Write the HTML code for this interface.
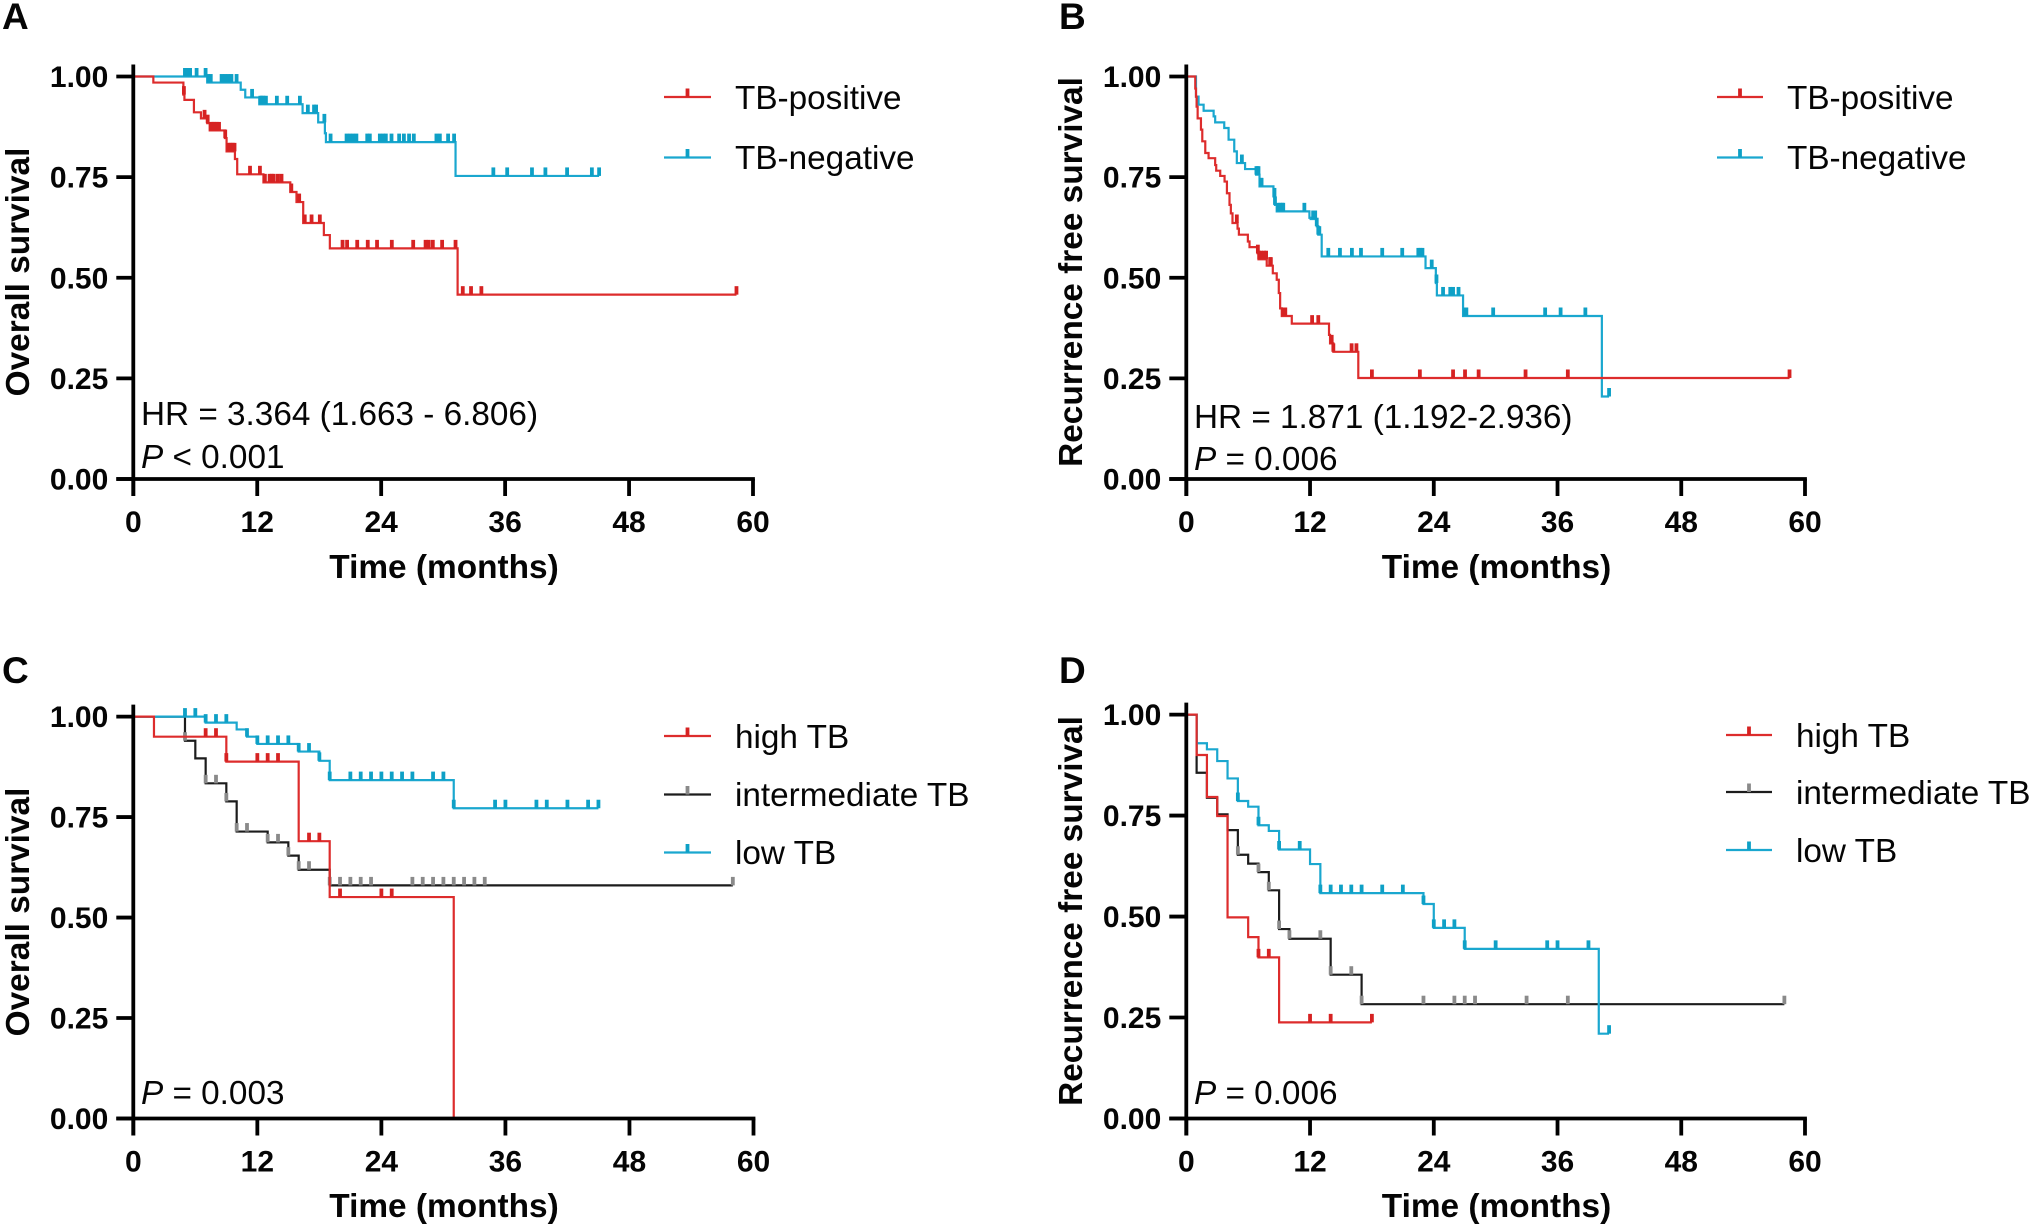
<!DOCTYPE html>
<html lang="en">
<head>
<meta charset="utf-8">
<title>Kaplan-Meier survival curves by TB status</title>
<style>
html,body{margin:0;padding:0;background:#fff;width:2030px;height:1228px;overflow:hidden}
svg{display:block}
text{font-family:"Liberation Sans",Arial,sans-serif;fill:#050505}
.tick{font-size:30px;font-weight:700}
.title{font-size:33.4px;font-weight:700}
.panel{font-size:37px;font-weight:700}
.note,.leg{font-size:33.3px}
</style>
</head>
<body>
<svg id="figure" xmlns="http://www.w3.org/2000/svg" width="2030" height="1228" viewBox="0 0 2030 1228">
  <rect width="2030" height="1228" fill="#fff"/>

  <!-- Panel A -->
  <g id="panel-a">
    <text class="panel" x="2" y="29">A</text>
    <text class="title" x="444" y="578" text-anchor="middle">Time (months)</text>
    <text class="title" transform="translate(29 272) rotate(-90)" text-anchor="middle">Overall survival</text>
    <text class="note" x="141" y="425">HR = 3.364 (1.663 - 6.806)</text>
    <text class="note" x="141" y="468"><tspan font-style="italic">P</tspan> &lt; 0.001</text>
    <g>
      <g>
        <path d="M664 97H711" stroke="#dd2c2c" stroke-width="2.2" fill="none"/><path d="M687.5 97V88.5" stroke="#d62222" stroke-width="3.8" fill="none"/>
        <text class="leg" x="735" y="109">TB-positive</text>
      </g>
      <g>
        <path d="M664 157.5H711" stroke="#1aa7cf" stroke-width="2.2" fill="none"/><path d="M687.5 157.5V149" stroke="#0ea0c6" stroke-width="3.8" fill="none"/>
        <text class="leg" x="735" y="169">TB-negative</text>
      </g>
    </g>
  </g>

  <!-- Panel B -->
  <g id="panel-b">
    <text class="panel" x="1059" y="29">B</text>
    <text class="title" x="1496.5" y="578" text-anchor="middle">Time (months)</text>
    <text class="title" transform="translate(1082 272) rotate(-90)" text-anchor="middle">Recurrence free survival</text>
    <text class="note" x="1194" y="428">HR = 1.871 (1.192-2.936)</text>
    <text class="note" x="1194" y="470"><tspan font-style="italic">P</tspan> = 0.006</text>
    <g>
      <g>
        <path d="M1717 97H1763" stroke="#dd2c2c" stroke-width="2.2" fill="none"/><path d="M1740 97V88.5" stroke="#d62222" stroke-width="3.8" fill="none"/>
        <text class="leg" x="1787" y="109">TB-positive</text>
      </g>
      <g>
        <path d="M1717 157.5H1763" stroke="#1aa7cf" stroke-width="2.2" fill="none"/><path d="M1740 157.5V149" stroke="#0ea0c6" stroke-width="3.8" fill="none"/>
        <text class="leg" x="1787" y="169">TB-negative</text>
      </g>
    </g>
  </g>

  <!-- Panel C -->
  <g id="panel-c">
    <text class="panel" x="2" y="683">C</text>
    <text class="title" x="444" y="1217" text-anchor="middle">Time (months)</text>
    <text class="title" transform="translate(29 912) rotate(-90)" text-anchor="middle">Overall survival</text>
    <text class="note" x="141" y="1104"><tspan font-style="italic">P</tspan> = 0.003</text>
    <g>
      <g>
        <path d="M664 736H711" stroke="#dd2c2c" stroke-width="2.2" fill="none"/><path d="M687.5 736V727.5" stroke="#d62222" stroke-width="3.8" fill="none"/>
        <text class="leg" x="735" y="748">high TB</text>
      </g>
      <g>
        <path d="M664 794.5H711" stroke="#1c1c1c" stroke-width="2.2" fill="none"/><path d="M687.5 794.5V786" stroke="#8a8a8a" stroke-width="3.8" fill="none"/>
        <text class="leg" x="735" y="806">intermediate TB</text>
      </g>
      <g>
        <path d="M664 852.5H711" stroke="#1aa7cf" stroke-width="2.2" fill="none"/><path d="M687.5 852.5V844" stroke="#0ea0c6" stroke-width="3.8" fill="none"/>
        <text class="leg" x="735" y="864">low TB</text>
      </g>
    </g>
  </g>

  <!-- Panel D -->
  <g id="panel-d">
    <text class="panel" x="1059" y="683">D</text>
    <text class="title" x="1496.5" y="1217" text-anchor="middle">Time (months)</text>
    <text class="title" transform="translate(1082 911) rotate(-90)" text-anchor="middle">Recurrence free survival</text>
    <text class="note" x="1194" y="1104"><tspan font-style="italic">P</tspan> = 0.006</text>
    <g>
      <g>
        <path d="M1726 735H1772" stroke="#dd2c2c" stroke-width="2.2" fill="none"/><path d="M1749 735V726.5" stroke="#d62222" stroke-width="3.8" fill="none"/>
        <text class="leg" x="1796" y="747">high TB</text>
      </g>
      <g>
        <path d="M1726 792H1772" stroke="#1c1c1c" stroke-width="2.2" fill="none"/><path d="M1749 792V783.5" stroke="#8a8a8a" stroke-width="3.8" fill="none"/>
        <text class="leg" x="1796" y="804">intermediate TB</text>
      </g>
      <g>
        <path d="M1726 850H1772" stroke="#1aa7cf" stroke-width="2.2" fill="none"/><path d="M1749 850V841.5" stroke="#0ea0c6" stroke-width="3.8" fill="none"/>
        <text class="leg" x="1796" y="862">low TB</text>
      </g>
    </g>
  </g>
</svg>

<script>
// Shared axis labels
var xTickLabels = [0, 12, 24, 36, 48, 60];
var yTickLabels = ['0.00', '0.25', '0.50', '0.75', '1.00'];

// Panel A: overall survival, TB-positive
var aPositiveTimes = [1.94, 4.85, 4.95, 5.87, 6.55, 7.16, 7.4, 8.87, 9.03, 9.84, 10.06, 12.6, 15.2, 15.8, 16.45, 18.45, 19.03, 31.4];
var aPositiveSurvival = [0.985, 0.955, 0.942, 0.911, 0.896, 0.884, 0.866, 0.847, 0.814, 0.795, 0.757, 0.737, 0.713, 0.688, 0.636, 0.606, 0.573, 0.458];
var aPositiveCensored = [4.9, 6.9, 7.2, 7.5, 7.65, 7.8, 7.95, 8.1, 8.3, 8.9, 9.2, 9.35, 9.5, 9.65, 9.8, 11.3, 12.26, 12.74, 13.2, 13.4, 13.6, 14, 14.35, 15.3, 16.06, 16.6, 17.26, 18.06, 20.26, 20.7, 21.68, 22.7, 23.6, 25.03, 27.1, 28.3, 28.6, 29, 29.9, 31.2, 31.9, 32.7, 33.7, 58.4];

// Panel A: overall survival, TB-negative
var aNegativeTimes = [7.16, 10.4, 10.84, 12.2, 16.39, 17.9, 18.55, 18.65, 31.2];
var aNegativeSurvival = [0.985, 0.967, 0.948, 0.931, 0.909, 0.886, 0.859, 0.837, 0.753];
var aNegativeCensored = [5, 5.15, 5.3, 5.5, 6.13, 7, 7.26, 7.5, 8.55, 8.87, 9.2, 9.5, 10, 11.5, 12.3, 12.45, 12.6, 12.84, 13.9, 14.9, 16.13, 16.9, 17.5, 17.7, 18.5, 19.1, 20.65, 20.97, 21.29, 21.6, 22.65, 22.9, 23.87, 24.2, 24.45, 25, 25.74, 26.2, 26.7, 27.16, 29.35, 29.68, 30.48, 31.06, 34.86, 36.2, 38.6, 39.9, 42, 44.4, 45.1];

// Panel B: recurrence free survival, TB-positive
var bPositiveTimes = [0.87, 0.94, 1, 1.1, 1.42, 1.55, 1.84, 2.16, 2.8, 2.9, 3.29, 3.71, 3.94, 4.19, 4.32, 4.48, 4.97, 5.1, 5.97, 6.13, 6.9, 7, 7.8, 8.39, 8.77, 8.97, 9.1, 9.26, 10.23, 13.84, 13.94, 14.26, 16.68];
var bPositiveSurvival = [0.97, 0.95, 0.925, 0.896, 0.868, 0.839, 0.81, 0.797, 0.78, 0.766, 0.753, 0.739, 0.71, 0.681, 0.66, 0.636, 0.622, 0.607, 0.59, 0.576, 0.561, 0.546, 0.53, 0.511, 0.495, 0.462, 0.424, 0.405, 0.386, 0.358, 0.337, 0.316, 0.251];
var bPositiveCensored = [4.9, 6.94, 7.07, 7.26, 7.55, 7.74, 8.13, 8.2, 9.4, 9.6, 12.2, 12.8, 14.1, 14.26, 16.03, 16.5, 18, 22.65, 25.87, 27.03, 28.35, 32.9, 37, 58.5];

// Panel B: recurrence free survival, TB-negative
var bNegativeTimes = [0.94, 1.19, 1.68, 2.65, 2.8, 3.68, 4.1, 4.65, 4.9, 5.7, 6.77, 7.1, 8.45, 8.6, 8.77, 11.94, 12.06, 12.65, 12.8, 13.13, 23.2, 24.2, 24.3, 26.84, 40.3];
var bNegativeSurvival = [0.95, 0.93, 0.915, 0.901, 0.886, 0.872, 0.843, 0.814, 0.785, 0.77, 0.756, 0.727, 0.702, 0.681, 0.665, 0.649, 0.646, 0.628, 0.607, 0.553, 0.524, 0.487, 0.456, 0.405, 0.205];
var bNegativeCensored = [5.39, 6.8, 6.9, 7, 7.26, 7.3, 8.55, 8.6, 8.9, 9.1, 9.3, 9.4, 11.45, 12.3, 12.5, 12.65, 12.8, 12.9, 13.77, 14.9, 16.06, 16.94, 19, 20.94, 22.5, 22.7, 22.9, 23.8, 24.26, 24.9, 25.6, 25.87, 26.4, 27.03, 27.16, 29.76, 34.8, 36.3, 38.7, 41];

// Panel C: overall survival, high TB
var cHighTimes = [2, 9, 16, 19, 31];
var cHighSurvival = [0.95, 0.888, 0.69, 0.551, 0];
var cHighCensored = [7, 8, 9, 12, 13, 14, 17, 18, 20, 24, 25];

// Panel C: overall survival, intermediate TB
var cMidTimes = [5, 6, 7, 9, 10, 13, 15, 16, 19];
var cMidSurvival = [0.94, 0.896, 0.834, 0.789, 0.714, 0.687, 0.654, 0.619, 0.58];
var cMidCensored = [5, 7, 8, 9, 10, 11, 13, 14, 15, 16, 17, 19, 20, 21, 22, 23, 27, 28, 29, 30, 31, 32, 33, 34, 58];

// Panel C: overall survival, low TB
var cLowTimes = [7, 10, 11, 12, 16, 18, 19, 31];
var cLowSurvival = [0.985, 0.968, 0.95, 0.932, 0.913, 0.89, 0.842, 0.772];
var cLowCensored = [5, 6, 7, 8, 9, 11, 12, 13, 14, 15, 16, 17, 18, 19, 21, 22, 23, 24, 25, 26, 27, 29, 30, 31, 35, 36, 39, 40, 42, 44, 45];

// Panel D: recurrence free survival, high TB
var dHighTimes = [1, 2, 3, 4, 6, 7, 9];
var dHighSurvival = [0.9, 0.796, 0.749, 0.498, 0.449, 0.399, 0.238];
var dHighCensored = [7, 8, 12, 14, 18];

// Panel D: recurrence free survival, intermediate TB
var dMidTimes = [1, 2, 3, 4, 5, 6, 7, 8, 9, 10, 14, 17];
var dMidSurvival = [0.856, 0.794, 0.753, 0.714, 0.653, 0.631, 0.61, 0.565, 0.469, 0.445, 0.356, 0.283];
var dMidCensored = [5, 7, 8, 9, 10, 13, 14, 16, 17, 23, 26, 27, 28, 33, 37, 58];

// Panel D: recurrence free survival, low TB
var dLowTimes = [1, 2, 3, 4, 5, 6, 7, 8, 9, 12, 13, 23, 24, 27, 40];
var dLowSurvival = [0.929, 0.914, 0.885, 0.842, 0.786, 0.772, 0.726, 0.712, 0.666, 0.63, 0.558, 0.531, 0.472, 0.42, 0.21];
var dLowCensored = [5, 7, 9, 11, 13, 14, 15, 16, 17, 19, 21, 23, 24, 25, 26, 27, 30, 35, 36, 39, 41];

var RED = { line: '#dd2c2c', mark: '#d62222' };
var BLUE = { line: '#1aa7cf', mark: '#0ea0c6' };
var BLACK = { line: '#1c1c1c', mark: '#8a8a8a' };
var SVG_NS = 'http://www.w3.org/2000/svg';

function make(tag, props) {
  var el = document.createElementNS(SVG_NS, tag);
  for (var k in props) el.setAttribute(k, props[k]);
  return el;
}

function drawAxes(host, xs, ys) {
  var axes = make('g', {});
  
  
  host.appendChild(axes);

  var yLine = make('line', { x1: xs(0), x2: xs(0), y1: ys(1) - 12, y2: ys(0) + 17, stroke: '#000', 'stroke-width': 3.8 });
  
  
  axes.appendChild(yLine);

  var xLine = make('line', { x1: xs(0) - 17, x2: xs(60) + 1.9, y1: ys(0), y2: ys(0), stroke: '#000', 'stroke-width': 3.8 });
  
  
  axes.appendChild(xLine);

  xTickLabels.forEach(function (v) {
    var mark = make('line', { x1: xs(v), x2: xs(v), y1: ys(0), y2: ys(0) + 17, stroke: '#000', 'stroke-width': 3.8 });
    
    
    axes.appendChild(mark);

    var label = make('text', { x: xs(v), y: ys(0) + 53, 'text-anchor': 'middle', 'class': 'tick' });
    label.textContent = String(v);
    
    
    axes.appendChild(label);
  });

  yTickLabels.forEach(function (t) {
    var v = parseFloat(t);
    var mark = make('line', { x1: xs(0) - 17, x2: xs(0), y1: ys(v), y2: ys(v), stroke: '#000', 'stroke-width': 3.8 });
    
    
    axes.appendChild(mark);

    var label = make('text', { x: xs(0) - 25, y: ys(v) + 10.5, 'text-anchor': 'end', 'class': 'tick' });
    label.textContent = t;
    
    
    axes.appendChild(label);
  });
}

function survivalAt(times, survival, t) {
  var s = 1;
  for (var i = 0; i < times.length; i++) {
    if (times[i] <= t) s = survival[i];
  }
  return s;
}

function drawSeries(host, xs, ys, name, times, survival, censored, colors) {
  var group = make('g', {});
  
  
  host.appendChild(group);

  var d = 'M' + xs(0) + ' ' + ys(1);
  for (var i = 0; i < times.length; i++) {
    d += 'H' + xs(times[i]) + 'V' + ys(survival[i]);
  }
  var lastTime = times[times.length - 1];
  var lastCensored = censored.length ? censored[censored.length - 1] : lastTime;
  if (lastCensored > lastTime) d += 'H' + xs(lastCensored);

  var curve = make('path', { d: d, fill: 'none', stroke: colors.line, 'stroke-width': 2.2, 'stroke-linejoin': 'miter' });
  
  
  group.appendChild(curve);

  censored.forEach(function (t) {
    var y = ys(survivalAt(times, survival, t));
    var mark = make('line', { x1: xs(t), x2: xs(t), y1: y, y2: y - 8.5, stroke: colors.mark, 'stroke-width': 3.8 });
    
    
    group.appendChild(mark);
  });
}

function scaleX(left, right) {
  return function (m) { return left + (right - left) * m / 60; };
}
function scaleY(top, bottom) {
  return function (s) { return bottom - (bottom - top) * s; };
}

function drawPanel(id, frame, seriesList) {
  var host = document.getElementById(id);
  var xs = scaleX(frame.left, frame.right);
  var ys = scaleY(frame.top, frame.bottom);
  seriesList.forEach(function (s) {
    drawSeries(host, xs, ys, s.name, s.times, s.survival, s.censored, s.colors);
  });
  drawAxes(host, xs, ys);
}

drawPanel('panel-a', { left: 133.3, right: 753, top: 76.5, bottom: 479 }, [
  { name: 'tb-negative', times: aNegativeTimes, survival: aNegativeSurvival, censored: aNegativeCensored, colors: BLUE },
  { name: 'tb-positive', times: aPositiveTimes, survival: aPositiveSurvival, censored: aPositiveCensored, colors: RED }
]);
drawPanel('panel-b', { left: 1186.3, right: 1805, top: 76.5, bottom: 479 }, [
  { name: 'tb-negative', times: bNegativeTimes, survival: bNegativeSurvival, censored: bNegativeCensored, colors: BLUE },
  { name: 'tb-positive', times: bPositiveTimes, survival: bPositiveSurvival, censored: bPositiveCensored, colors: RED }
]);
drawPanel('panel-c', { left: 133.3, right: 753.5, top: 716.6, bottom: 1118.5 }, [
  { name: 'intermediate-tb', times: cMidTimes, survival: cMidSurvival, censored: cMidCensored, colors: BLACK },
  { name: 'low-tb', times: cLowTimes, survival: cLowSurvival, censored: cLowCensored, colors: BLUE },
  { name: 'high-tb', times: cHighTimes, survival: cHighSurvival, censored: cHighCensored, colors: RED }
]);
drawPanel('panel-d', { left: 1186.3, right: 1805, top: 714.6, bottom: 1118.5 }, [
  { name: 'intermediate-tb', times: dMidTimes, survival: dMidSurvival, censored: dMidCensored, colors: BLACK },
  { name: 'low-tb', times: dLowTimes, survival: dLowSurvival, censored: dLowCensored, colors: BLUE },
  { name: 'high-tb', times: dHighTimes, survival: dHighSurvival, censored: dHighCensored, colors: RED }
]);
</script>
</body>
</html>
